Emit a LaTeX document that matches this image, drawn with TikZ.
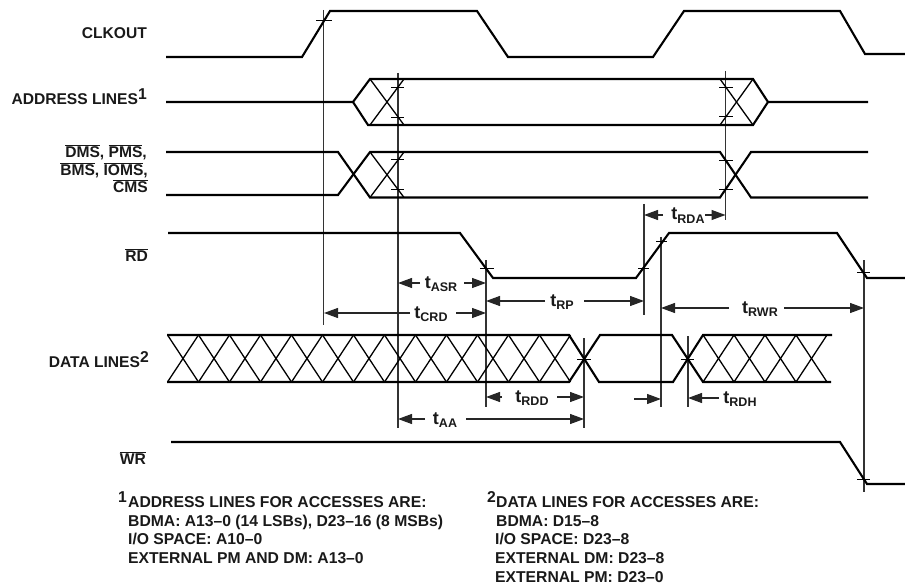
\documentclass[tikz,border=0pt]{standalone}
\usepackage{fontspec}
\setmainfont{Liberation Sans}[BoldFont={Liberation Sans Bold}]
\usetikzlibrary{arrows.meta}
\newcommand{\ovl}[1]{$\overline{\hbox{#1}}$}
\newcommand{\tsub}[1]{{\fontsize{18}{18}\selectfont t}\raisebox{-3.5pt}{\fontsize{12.5}{12.5}\selectfont #1}}
\newcommand{\supr}[1]{\raisebox{5pt}{\fontsize{15.7}{15.7}\selectfont #1}}
\tikzset{
  x=1pt,y=-1pt,
  sig/.style={line width=2.1pt,line join=miter,black},
  thin line/.style={line width=1.3pt,black},
  vline/.style={line width=1.3pt,black!80},
  tick/.style={line width=1pt,black},
  dim/.style={line width=1.2pt,black!85,-{Triangle[length=14pt,width=10pt]}},
  lab/.style={font=\bfseries\fontsize{15.6}{15.6}\selectfont,anchor=base east,inner sep=0pt,text=black!90},
  note/.style={font=\bfseries\fontsize{15.7}{15.7}\selectfont,anchor=base west,inner sep=0pt,text=black!90},
  tlab/.style={font=\bfseries,anchor=base,inner sep=0pt,text=black!90}
}
\begin{document}
\begin{tikzpicture}
\useasboundingbox (0,0) rectangle (905,588);
% vertical reference lines
\foreach \xx/\ya/\yb in {323.5/10/325,398/73/428,725.5/71/220,644/204/315,661/237/407,486/260/407,864/260/492,584/338/428,688/336/407}
  \draw[vline] (\xx,\ya) -- (\xx,\yb);
% signals
\draw[sig] (166,57) -- (302,57) -- (330,11) -- (477,11) -- (508,57) -- (653,57) -- (684,11) -- (840,11) -- (865,54) -- (905,54);
\draw[sig] (166,102) -- (353,102) -- (370,79) -- (753,79) -- (768,102) -- (868,102);
\draw[sig] (353,102) -- (368,125) -- (753,125) -- (768,102);
\draw[sig] (166,152) -- (338,152) -- (370,197.5) -- (720,197.5) -- (751,152) -- (868,152);
\draw[sig] (166,195) -- (338,195) -- (370,152) -- (720,152) -- (751,197.5) -- (868,197.5);
\draw[sig] (168,233) -- (460,233) -- (493,278) -- (636,278) -- (669,233) -- (837,233) -- (867,278) -- (905,278);
\draw[sig] (171,442) -- (840,442) -- (867,484) -- (905,484);
% data bus
\draw[sig] (167,335) -- (569,335) -- (599,382) -- (673,382) -- (703,335) -- (832,335);
\draw[sig] (167,382) -- (569,382) -- (600,335) -- (672,335) -- (703,382) -- (831,382);
\foreach \i in {0,...,12} {
  \pgfmathsetmacro{\xa}{167.5+31*\i}
  \pgfmathsetmacro{\xb}{\xa+31}
  \draw[thin line] (\xa,335) -- (\xb,382);
  \draw[thin line] (\xa,382) -- (\xb,335);
}
\foreach \i in {0,...,3} {
  \pgfmathsetmacro{\xa}{703+31*\i}
  \pgfmathsetmacro{\xb}{\xa+31}
  \draw[thin line] (\xa,335) -- (\xb,382);
  \draw[thin line] (\xa,382) -- (\xb,335);
}
% thin transitions
\foreach \ya/\yb in {79/125,152/197.5} {
  \draw[thin line] (370,\ya) -- (404,\yb);
  \draw[thin line] (370,\yb) -- (404,\ya);
}
\draw[thin line] (720,79) -- (753,125);
\draw[thin line] (720,125) -- (753,79);
% ticks
\foreach \xa/\xb/\yy in {316/332/21,391/404/88,391/404/118,391/404/160,391/404/190,719/733/88,719/733/117,719/733/161,719/733/190,480/494/268,638/649/268,656/667/242,857/870/272,577/591/359,681/694/359,857/870/479}
  \draw[tick] (\xa,\yy) -- (\xb,\yy);
% dimension arrows
\foreach \xa/\xb/\yy in {663/644/215,705/725.5/215,420/398/283,464/486/283,410/324/313,456/486/313,545/486/301,584/644/301,729/661/308,784/864/308,502/486/397,557/584/397,634/661/399,719/688/398,425/398/419,466/584/419}
  \draw[dim] (\xa,\yy) -- (\xb,\yy);
% time labels
\node[tlab] (trda) at (688,220) {\tsub{RDA}};
\node[tlab] (tasr) at (441,288) {\tsub{ASR}};
\node[tlab] (tcrd) at (431,318) {\tsub{CRD}};
\node[tlab] (trp) at (562,306) {\tsub{RP}};
\node[tlab] (trwr) at (760,313) {\tsub{RWR}};
\node[tlab] (trdd) at (532,402) {\tsub{RDD}};
\node[tlab] (trdh) at (740,403) {\tsub{RDH}};
\node[tlab] (taa) at (445,424) {\tsub{AA}};
% signal labels
\node[lab] (clk) at (147,38.5) {CLKOUT};
\node[lab] (addr) at (147,104.5) {ADDRESS LINES\supr{1}};
\node[lab] (dms) at (147,157.5) {\ovl{DMS}, \ovl{PMS},};
\node[lab] (bms) at (148,175.5) {\ovl{BMS}, \ovl{IOMS},};
\node[lab] (cms) at (148,192.5) {\ovl{CMS}};
\node[lab] (rd) at (148,261.5) {\ovl{RD}};
\node[lab] (data) at (149,367.5) {DATA LINES\supr{2}};
\node[lab] (wr) at (146,464.5) {\ovl{WR}};
% notes
\node[note] (n1s) at (118,507.5) {\supr{1}};
\node[note] (n1a) at (128,507.5) {ADDRESS LINES FOR ACCESSES ARE:};
\node[note] (n1b) at (128,526.5) {BDMA: A13–0 (14 LSBs), D23–16 (8 MSBs)};
\node[note] (n1c) at (128,544.5) {I/O SPACE: A10–0};
\node[note] (n1d) at (128,563.5) {EXTERNAL PM AND DM: A13–0};
\node[note] (n2s) at (487,507.5) {\supr{2}};
\node[note] (n2a) at (496,507.5) {DATA LINES FOR ACCESSES ARE:};
\node[note] (n2b) at (496,526.5) {BDMA: D15–8};
\node[note] (n2c) at (495,544.5) {I/O SPACE: D23–8};
\node[note] (n2d) at (495,563.5) {EXTERNAL DM: D23–8};
\node[note] (n2e) at (495,582.5) {EXTERNAL PM: D23–0};
\end{tikzpicture}
\end{document}
